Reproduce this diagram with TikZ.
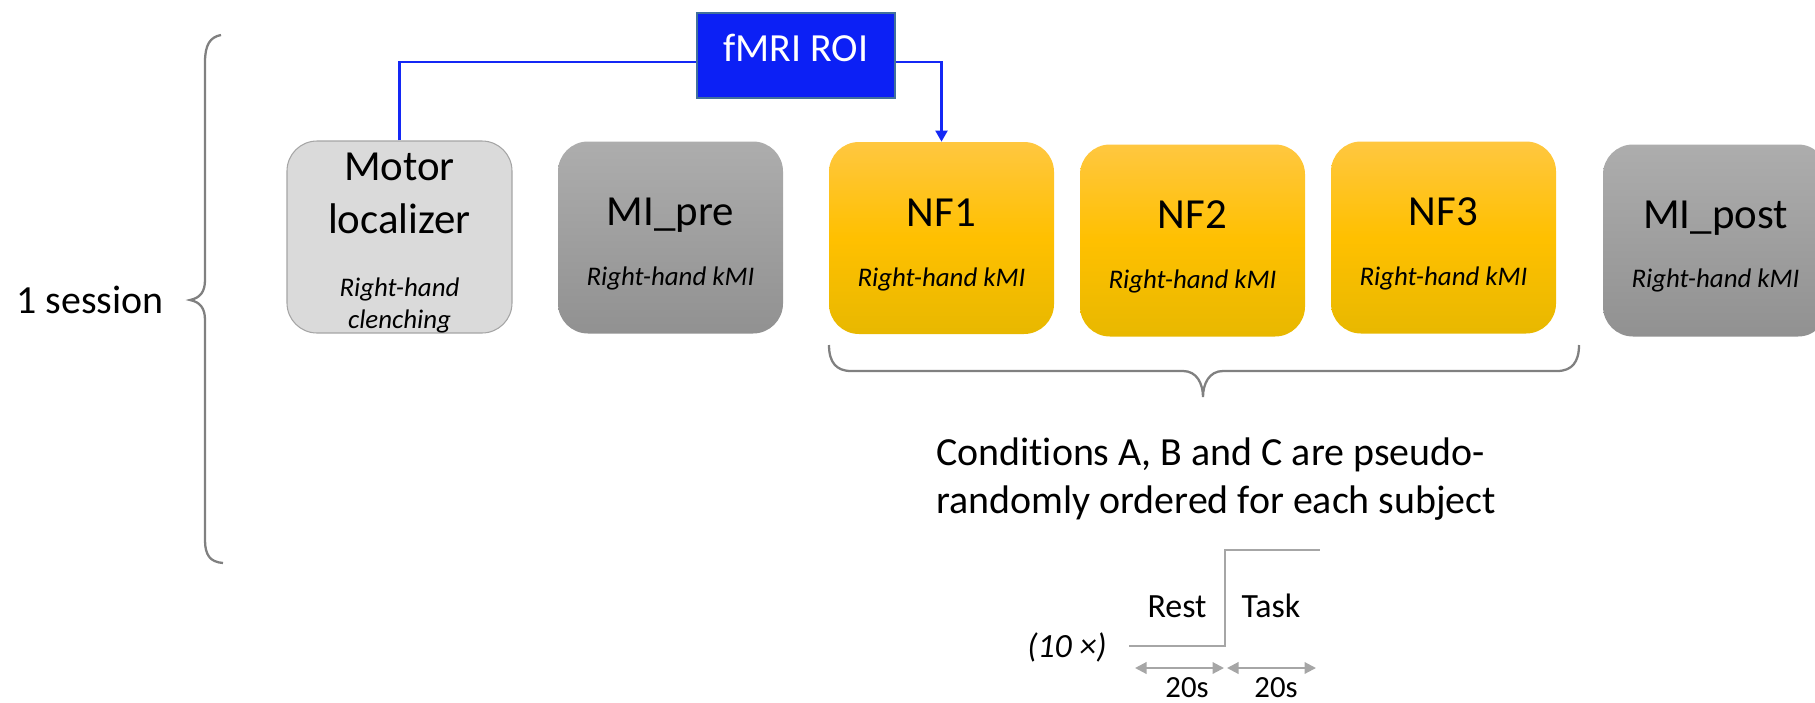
\documentclass[tikz,border=0pt]{standalone}
\usepackage{fontspec}
\setmainfont{Carlito}[Ligatures=NoCommon]
\usetikzlibrary{arrows.meta}

\definecolor{roiblue}{RGB}{12,32,245}
\definecolor{roiline}{RGB}{65,113,156}
\definecolor{linkblue}{RGB}{20,40,245}
\definecolor{motorfill}{RGB}{218,218,218}
\definecolor{motorline}{RGB}{165,165,165}
\definecolor{grayTop}{RGB}{173,173,173}
\definecolor{grayBot}{RGB}{145,145,145}
\definecolor{nfTop}{RGB}{255,199,64}
\definecolor{nfMid}{RGB}{255,192,0}
\definecolor{nfBot}{RGB}{232,184,0}
\definecolor{braceGray}{RGB}{128,128,128}
\definecolor{stepGray}{RGB}{166,166,166}

\newcommand{\boxtitlefont}{\fontsize{24.4}{29.8}\selectfont}
\newcommand{\plainfont}{\fontsize{22.7}{27.2}\selectfont}
\newcommand{\italfont}{\fontsize{15.3}{18.4}\selectfont\itshape}
\newcommand{\timefont}{\fontsize{19.3}{23}\selectfont}
\newcommand{\durfont}{\fontsize{17.5}{21}\selectfont}

\begin{document}
\begin{tikzpicture}[x=0.2mm,y=-0.2mm,
  block/.style={rounded corners=6mm,minimum width=45mm,minimum height=38.4mm,inner sep=0pt},
  graybox/.style={block,top color=grayTop,bottom color=grayBot},
  nfbox/.style={block,top color=nfTop,bottom color=nfBot,middle color=nfMid},
  ttl/.style={anchor=base,font=\boxtitlefont},
  subtxt/.style={anchor=base,font=\italfont},
  roi/.style={draw=linkblue,line width=1.2pt},
  brc/.style={draw=braceGray,line width=1.3pt},
  tline/.style={draw=stepGray,line width=1.2pt},
  durtip/.tip={Triangle[width=2.3mm,length=2.3mm]}]
\useasboundingbox (0,0) rectangle (1815,702);

% session brace
\node[anchor=base,font=\plainfont] (session) at (90,313) {1 session};
\draw[brc] (221,35) .. controls (210,37) and (205,45) .. (205,62) -- (205,280)
  .. controls (205,292) and (200,298) .. (190,300)
  .. controls (200,302) and (205,308) .. (205,320) -- (205,540)
  .. controls (205,555) and (210,562) .. (223,563);

% runs
\node[block,fill=motorfill,draw=motorline,line width=0.6pt] (motor) at (399.5,237) {};
\node[graybox] (mipre) at (670.5,237.5) {};
\node[nfbox] (nf1) at (941.5,238) {};
\node[nfbox] (nf2) at (1192.5,240.5) {};
\node[nfbox] (nf3) at (1443.5,237.5) {};
\node[graybox] (mipost) at (1715.5,240.5) {};

\node[ttl] (motorA) at (399.5,180) {Motor};
\node[ttl] (motorB) at (399.5,233) {localizer};
\node[subtxt] (motorC) at (399.5,296) {Right-hand};
\node[subtxt] (motorD) at (399.5,328) {clenching};
\node[ttl] (mipreA) at (670.5,225) {MI\_pre};
\node[subtxt] (mipreB) at (670.5,285) {Right-hand kMI};
\node[ttl] (nf1A) at (941.5,226) {NF1};
\node[subtxt] (nf1B) at (941.5,286) {Right-hand kMI};
\node[ttl] (nf2A) at (1192.5,228) {NF2};
\node[subtxt] (nf2B) at (1192.5,288) {Right-hand kMI};
\node[ttl] (nf3A) at (1443.5,225) {NF3};
\node[subtxt] (nf3B) at (1443.5,285) {Right-hand kMI};
\node[ttl] (mipostA) at (1715.5,228) {MI\_post};
\node[subtxt] (mipostB) at (1715.5,287) {Right-hand kMI};

% roi link
\node[fill=roiblue,draw=roiline,line width=1pt,minimum width=39.6mm,minimum height=17mm,
  inner sep=0pt,text=white,font=\plainfont,text height=0.63em,text depth=0pt] (fmri) at (796,55.5) {fMRI ROI};
\draw[roi] (motor.north) |- ([yshift=-1.3mm]fmri.west);
\draw[roi,-{Triangle[width=2.4mm,length=2.2mm]}] ([yshift=-1.3mm]fmri.east) -| (nf1.north);

% NF brace
\draw[brc] (829,345) .. controls (829,362) and (836,371) .. (851,371) -- (1183,371)
  .. controls (1197,371) and (1203,384) .. (1203,397)
  .. controls (1203,384) and (1209,371) .. (1223,371) -- (1557,371)
  .. controls (1572,371) and (1579,362) .. (1579,345);
\node[anchor=base west,align=left,font=\plainfont] (cond) at (930,513)
  {Conditions A, B and C are pseudo-\\randomly ordered for each subject};

% block design
\coordinate (s0) at (1129,646);
\coordinate (s1) at (1225,646);
\coordinate (s2) at (1225,550);
\coordinate (s3) at (1320,550);
\draw[tline] (s0) -- (s1) -- (s2) -- (s3);
\node[anchor=base,font=\timefont] (rest) at (1177,617) {Rest};
\node[anchor=base,font=\timefont] (task) at (1271,617) {Task};
\node[anchor=base,font=\timefont\itshape] (reps) at (1067,657) {(10 ×)};
\coordinate (d0) at (1135,668);
\coordinate (d1) at (1224,668);
\coordinate (d2) at (1227,668);
\coordinate (d3) at (1316,668);
\draw[tline,durtip-durtip] (d0) -- (d1);
\draw[tline,durtip-durtip] (d2) -- (d3);
\node[anchor=base,font=\durfont] (durA) at (1187,697) {20s};
\node[anchor=base,font=\durfont] (durB) at (1276,697) {20s};
\end{tikzpicture}
\end{document}
